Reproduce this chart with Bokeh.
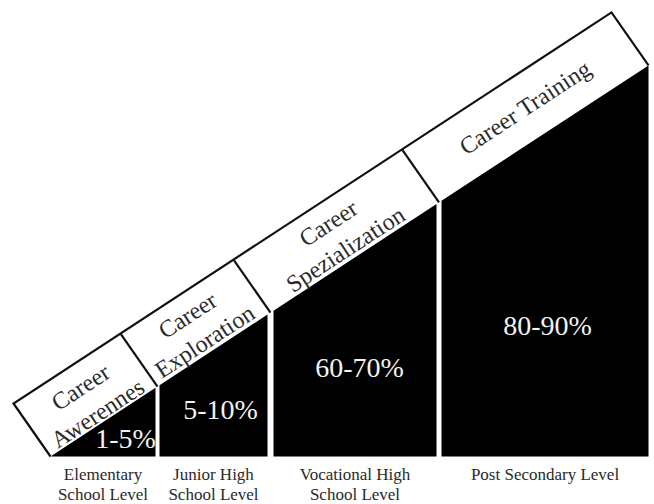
import math
from bokeh.plotting import figure
from bokeh.models import Range1d
from bokeh.embed import file_html
from bokeh.resources import INLINE
from bokeh.core.properties import value

# ---- content ----
stages = ["Career\nAwerennes", "Career\nExploration", "Career\nSpezialization", "Career Training"]
shares = ["1-5%", "5-10%", "60-70%", "80-90%"]
levels = ["Elementary\nSchool Level", "Junior High\nSchool Level",
          "Vocational High\nSchool Level", "Post Secondary Level"]

# ---- layout (picture pixel coordinates) ----
block_left = [50, 159, 273, 441]
block_right = [155, 267, 436, 648]
separators = [50, 157, 270, 438.5, 648]
base_y = 456
slope = 0.654
band_dx, band_dy = -37, -53
share_x = [125, 220, 359, 547]
share_y = [438, 409, 367, 325]
level_top = 464

FONT = value("Liberation Serif")


def edge_y(x):
    return base_y - slope * (x - block_left[0])


p = figure(width=654, height=504, x_range=Range1d(0, 654), y_range=Range1d(504, 0),
           min_border=0, toolbar_location=None, output_backend="svg",
           outline_line_color=None, background_fill_color="white")
p.axis.visible = False
p.grid.visible = False

# white band
x0, x1 = separators[0], separators[-1]
bx = [x0, x1, x1 + band_dx, x0 + band_dx]
by = [edge_y(x0), edge_y(x1), edge_y(x1) + band_dy, edge_y(x0) + band_dy]
p.patch(bx, by, fill_color="white", line_color=None)

# black blocks
xs, ys = [], []
for l, r in zip(block_left, block_right):
    xs.append([l, r, r, l])
    ys.append([base_y, base_y, edge_y(r), edge_y(l)])
p.patches(xs, ys, fill_color="black", line_color=None)

# band outline
p.line([x0, x0 + band_dx, x1 + band_dx, x1],
       [edge_y(x0), edge_y(x0) + band_dy, edge_y(x1) + band_dy, edge_y(x1)],
       line_color="#111111", line_width=2.2, line_join="miter")
inner = separators[1:-1]
p.segment(x0=inner, y0=[edge_y(s) for s in inner],
          x1=[s + band_dx for s in inner], y1=[edge_y(s) + band_dy for s in inner],
          line_color="#111111", line_width=2.2)

# stage labels along the band
angle = math.degrees(math.atan(slope))
sx, sy = [], []
for i, name in enumerate(stages):
    m = (separators[i] + separators[i + 1]) / 2
    two = "\n" in name
    f = 0.4 if two else 0.5
    shift = -3 if (two and i > 0) else 0
    sx.append(m + f * band_dx + shift)
    sy.append(edge_y(m) + f * band_dy)
p.text(x=sx, y=sy, text=stages, angle=angle, angle_units="deg",
       text_align="center", text_baseline="middle", text_font=FONT,
       text_font_size="24px", text_color="#2a2a2a", text_line_height=1.2)

# share labels
p.text(x=share_x, y=share_y, text=shares, text_align="center", text_baseline="middle",
       text_font=FONT, text_font_size="28px", text_color="#f2f2f2")

# school level labels
lx = [(l + r) / 2 for l, r in zip(block_left, block_right)]
p.text(x=lx, y=[level_top] * len(levels), text=levels, text_align="center",
       text_baseline="top", text_font=FONT, text_font_size="17px",
       text_color="#2a2a2a", text_line_height=1.08)

open("out.html", "w").write(file_html(p, INLINE))
